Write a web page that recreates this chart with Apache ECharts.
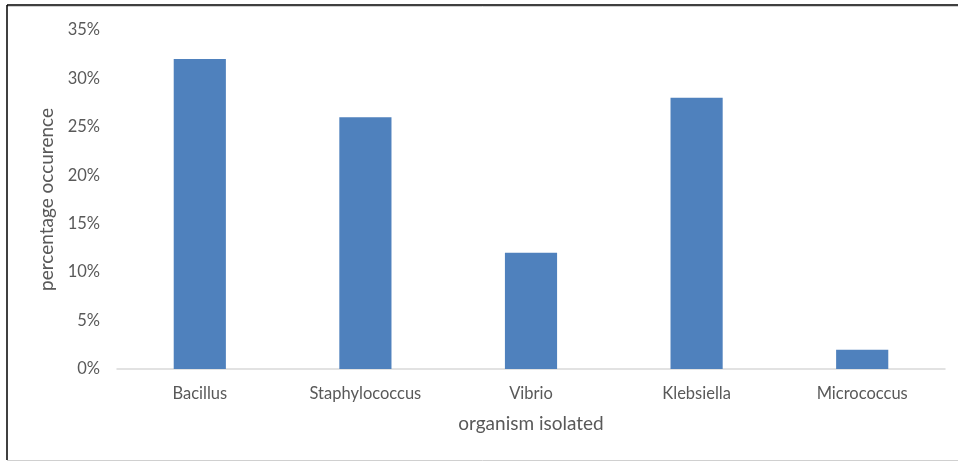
<!DOCTYPE html>
<html>
<head>
<meta charset="utf-8">
<style>
  html, body { margin: 0; padding: 0; background: #fff; }
  #chart { width: 958px; height: 462px; }
</style>
<script src="https://cdn.jsdelivr.net/npm/echarts@6/dist/echarts.min.js"></script>
</head>
<body>
<div id="chart"></div>
<script>
// Organisms isolated and their share of occurrences (%)
const organisms = ['Bacillus', 'Staphylococcus', 'Vibrio', 'Klebsiella', 'Micrococcus'];
const occurrence = [32, 26, 12, 28, 2];
const yTicks = [0, 5, 10, 15, 20, 25, 30, 35];

const font = 'Lato, "Open Sans", sans-serif';
const chart = echarts.init(document.getElementById('chart'), null, { renderer: 'canvas' });

chart.setOption({
  animation: false,
  backgroundColor: '#fff',
  graphic: [
    // frame around the figure
    { type: 'line', shape: { x1: 7, y1: 5, x2: 958, y2: 5 }, style: { stroke: '#000', lineWidth: 1.5 } },
    { type: 'line', shape: { x1: 7, y1: 6.5, x2: 958, y2: 6.5 }, style: { stroke: '#d0d0d0', lineWidth: 1 } },
    { type: 'line', shape: { x1: 7, y1: 5, x2: 7, y2: 460 }, style: { stroke: '#000', lineWidth: 1.5 } },
    { type: 'line', shape: { x1: 7, y1: 460.5, x2: 958, y2: 460.5 }, style: { stroke: '#d0d0d0', lineWidth: 1 } }
  ],
  grid: { left: 117, right: 13, top: 30, bottom: 93 },
  xAxis: {
    type: 'category',
    data: organisms,
    name: 'organism isolated',
    nameLocation: 'middle',
    nameGap: 45,
    nameTextStyle: { fontFamily: font, fontSize: 19, color: '#595959' },
    axisLine: { lineStyle: { color: '#d9d9d9', width: 1.5 } },
    axisTick: { show: false },
    axisLabel: { fontFamily: font, fontSize: 16.5, color: '#595959', margin: 16 }
  },
  yAxis: {
    type: 'value',
    min: yTicks[0],
    max: yTicks[yTicks.length - 1],
    interval: 5,
    name: 'percentage occurence',
    nameLocation: 'middle',
    nameGap: 60,
    nameTextStyle: { fontFamily: font, fontSize: 19, color: '#595959' },
    axisLine: { show: false },
    axisTick: { show: false },
    splitLine: { show: false },
    axisLabel: { fontFamily: font, fontSize: 16.5, color: '#595959', margin: 17, formatter: v => v + '%' }
  },
  series: [{
    type: 'bar',
    data: occurrence,
    barWidth: '31.5%',
    itemStyle: { color: '#4F81BD' }
  }]
});
</script>
</body>
</html>
